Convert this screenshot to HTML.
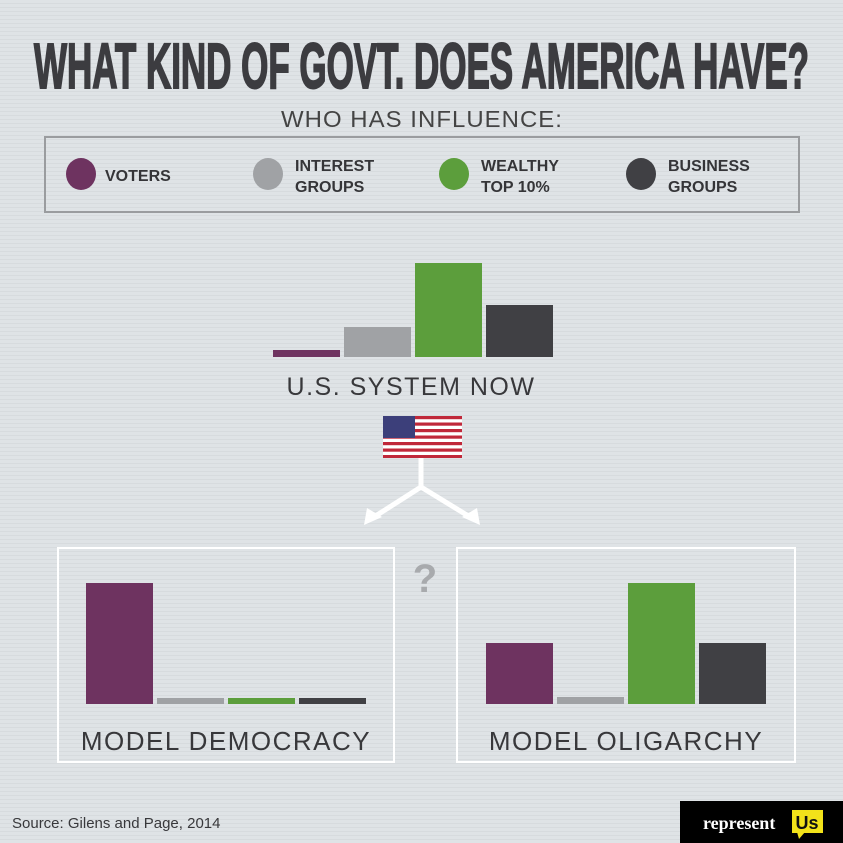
<!DOCTYPE html>
<html><head><meta charset="utf-8"><style>
body{margin:0;background:#dde1e4}
svg{display:block}
</style></head><body>
<svg width="843" height="843" viewBox="0 0 843 843" xmlns="http://www.w3.org/2000/svg">
<defs>
<pattern id="ln" width="4" height="4" patternUnits="userSpaceOnUse"><rect width="4" height="4" fill="#dfe3e6"/><rect y="3" width="4" height="1" fill="#d7dbde"/></pattern>
</defs>
<rect width="843" height="843" fill="url(#ln)"/>
<text x="34" y="88" font-family="Liberation Sans, sans-serif" font-weight="bold" font-size="64" fill="#3c3c40" stroke="#3c3c40" stroke-width="2" textLength="775" lengthAdjust="spacingAndGlyphs">WHAT KIND OF GOVT. DOES AMERICA HAVE?</text>
<text x="422" y="127" text-anchor="middle" font-family="Liberation Sans, sans-serif" font-size="23" fill="#444" letter-spacing="1" textLength="282" lengthAdjust="spacingAndGlyphs">WHO HAS INFLUENCE:</text>
<rect x="45" y="137" width="754" height="75" fill="none" stroke="#9a9c9f" stroke-width="2"/>
<g font-family="Liberation Sans, sans-serif" font-weight="bold" font-size="16" fill="#353538">
<ellipse cx="81" cy="174" rx="15" ry="16" fill="#6e3360"/>
<text x="105" y="181">VOTERS</text>
<ellipse cx="268" cy="174" rx="15" ry="16" fill="#a0a2a5"/>
<text x="295" y="171">INTEREST</text><text x="295" y="192">GROUPS</text>
<ellipse cx="454" cy="174" rx="15" ry="16" fill="#5c9e3c"/>
<text x="481" y="171">WEALTHY</text><text x="481" y="192">TOP 10%</text>
<ellipse cx="641" cy="174" rx="15" ry="16" fill="#404044"/>
<text x="668" y="171">BUSINESS</text><text x="668" y="192">GROUPS</text>
</g>
<rect x="273" y="350" width="67" height="7" fill="#6e3360"/>
<rect x="344" y="327" width="67" height="30" fill="#a0a2a5"/>
<rect x="415" y="263" width="67" height="94" fill="#5c9e3c"/>
<rect x="486" y="305" width="67" height="52" fill="#404044"/>
<text x="411" y="395" text-anchor="middle" font-family="Liberation Sans, sans-serif" font-size="25" fill="#38383b" letter-spacing="1.5">U.S. SYSTEM NOW</text>
<g>
<rect x="383" y="416" width="79" height="42" fill="#fff"/>
<g fill="#c0283a">
<rect x="383" y="416" width="79" height="3.2"/><rect x="383" y="422.5" width="79" height="3.2"/><rect x="383" y="429" width="79" height="3.2"/><rect x="383" y="435.5" width="79" height="3.2"/><rect x="383" y="442" width="79" height="3.2"/><rect x="383" y="448.5" width="79" height="3.2"/><rect x="383" y="455" width="79" height="3"/>
</g>
<rect x="383" y="416" width="32" height="22" fill="#3c3f7a"/>
</g>
<g stroke="#fff" stroke-width="5" fill="none">
<path d="M421 458 V487 L374 517 M421 487 L470 517"/>
</g>
<polygon points="364,525 367,508 382,517" fill="#fff"/>
<polygon points="480,525 477,508 462,517" fill="#fff"/>
<rect x="58" y="548" width="336" height="214" fill="none" stroke="#fff" stroke-width="2"/>
<rect x="457" y="548" width="338" height="214" fill="none" stroke="#fff" stroke-width="2"/>
<text x="425" y="592" text-anchor="middle" font-family="Liberation Sans, sans-serif" font-weight="bold" font-size="40" fill="#a8aaad">?</text>
<rect x="86" y="583" width="67" height="121" fill="#6e3360"/>
<rect x="157" y="698" width="67" height="6" fill="#a0a2a5"/>
<rect x="228" y="698" width="67" height="6" fill="#5c9e3c"/>
<rect x="299" y="698" width="67" height="6" fill="#404044"/>
<rect x="486" y="643" width="67" height="61" fill="#6e3360"/>
<rect x="557" y="697" width="67" height="7" fill="#a0a2a5"/>
<rect x="628" y="583" width="67" height="121" fill="#5c9e3c"/>
<rect x="699" y="643" width="67" height="61" fill="#404044"/>
<g font-family="Liberation Sans, sans-serif" font-size="26" fill="#38383b" letter-spacing="1.5" text-anchor="middle">
<text x="226" y="750">MODEL DEMOCRACY</text>
<text x="626" y="750">MODEL OLIGARCHY</text>
</g>
<text x="12" y="828" font-family="Liberation Sans, sans-serif" font-size="15" fill="#38383b">Source: Gilens and Page, 2014</text>
<rect x="680" y="801" width="163" height="42" fill="#000"/>
<text x="703" y="829" font-family="Liberation Serif, serif" font-weight="bold" font-size="18" fill="#fff">represent</text>
<rect x="792" y="810" width="31" height="23" fill="#f2e21a"/>
<polygon points="797,832 805,832 799,839" fill="#f2e21a"/>
<text x="807" y="829" text-anchor="middle" font-family="Liberation Sans, sans-serif" font-weight="bold" font-size="18" fill="#111">Us</text>
</svg>
</body></html>
